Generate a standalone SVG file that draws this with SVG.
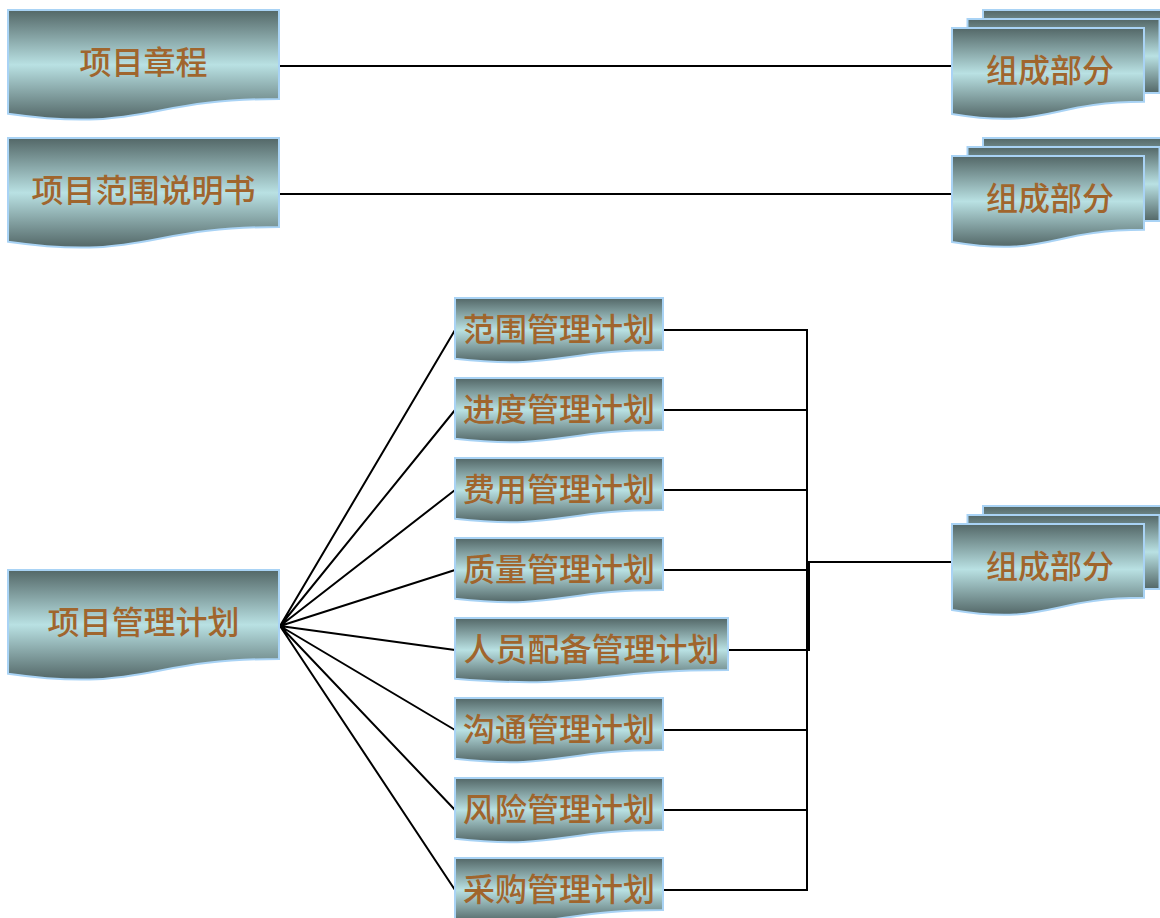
<svg xmlns="http://www.w3.org/2000/svg" xmlns:xlink="http://www.w3.org/1999/xlink" width="1160" height="918" viewBox="0 0 1160 918">
<style>
.doc{fill:url(#g);stroke:#a9d3f5;stroke-width:2}
.t{font-family:"Noto Sans CJK SC","Liberation Sans",sans-serif;font-size:32px;font-weight:500;fill:#a0652d;text-anchor:middle;dominant-baseline:central}
.c{fill:none;stroke:#000;stroke-width:2}
</style>
<defs>
<linearGradient id="g" x1="0" y1="0" x2="0" y2="1">
<stop offset="0" stop-color="#536767"/>
<stop offset="0.5" stop-color="#b9e1e3"/>
<stop offset="1" stop-color="#536767"/>
</linearGradient>
<path id="big" d="M0,0 H271 V89 C135.5,89 135.5,122.9 0,103.7 Z"/>
<path id="sm" d="M0,0 H208 V52.1 C104,52.1 104,72 0,60.7 Z"/>
<path id="smw" d="M0,0 H273 V52.1 C136.5,52.1 136.5,72 0,60.7 Z"/>
<path id="fr" d="M0,0 H192 V73.8 C96,73.8 96,101.9 0,85.9 Z"/>
<g id="multi">
<rect class="doc" x="31" y="-18" width="192" height="74"/>
<rect class="doc" x="15.5" y="-9" width="192" height="74"/>
<use href="#fr" class="doc"/>
</g>
</defs>
<g id="connectors">
<line class="c" x1="279" y1="66" x2="952" y2="66"/>
<line class="c" x1="279" y1="194" x2="952" y2="194"/>
<path class="c" d="M280,626 L455,330 M280,626 L455,410 M280,626 L455,490 M280,626 L455,570 M280,626 L455,650 M280,626 L455,730 M280,626 L455,810 M280,626 L455,890"/>
<path class="c" d="M663,330 H807 M663,410 H807 M663,490 H807 M663,570 H807 M663,730 H807 M663,810 H807 M663,890 H807 M807,329 V891"/>
<path class="c" d="M728,650 H809 V562 H952"/>
</g>
<g id="n1"><use href="#big" class="doc" x="8" y="10"/><text class="t" x="143.5" y="60">项目章程</text></g>
<g id="n2"><use href="#big" class="doc" x="8" y="138"/><text class="t" x="143.5" y="188">项目范围说明书</text></g>
<g id="n3"><use href="#big" class="doc" x="8" y="570"/><text class="t" x="143.5" y="620">项目管理计划</text></g>
<g id="r1"><use href="#multi" x="952" y="28"/><text class="t" x="1050" y="68">组成部分</text></g>
<g id="r2"><use href="#multi" x="952" y="156"/><text class="t" x="1050" y="196">组成部分</text></g>
<g id="r3"><use href="#multi" x="952" y="524"/><text class="t" x="1050" y="564">组成部分</text></g>
<g id="p1"><use href="#sm" class="doc" x="455" y="298"/><text class="t" x="559" y="327">范围管理计划</text></g>
<g id="p2"><use href="#sm" class="doc" x="455" y="378"/><text class="t" x="559" y="407">进度管理计划</text></g>
<g id="p3"><use href="#sm" class="doc" x="455" y="458"/><text class="t" x="559" y="487">费用管理计划</text></g>
<g id="p4"><use href="#sm" class="doc" x="455" y="538"/><text class="t" x="559" y="567">质量管理计划</text></g>
<g id="p5"><use href="#smw" class="doc" x="455" y="618"/><text class="t" x="591.5" y="647">人员配备管理计划</text></g>
<g id="p6"><use href="#sm" class="doc" x="455" y="698"/><text class="t" x="559" y="727">沟通管理计划</text></g>
<g id="p7"><use href="#sm" class="doc" x="455" y="778"/><text class="t" x="559" y="807">风险管理计划</text></g>
<g id="p8"><use href="#sm" class="doc" x="455" y="858"/><text class="t" x="559" y="887">采购管理计划</text></g>
</svg>
